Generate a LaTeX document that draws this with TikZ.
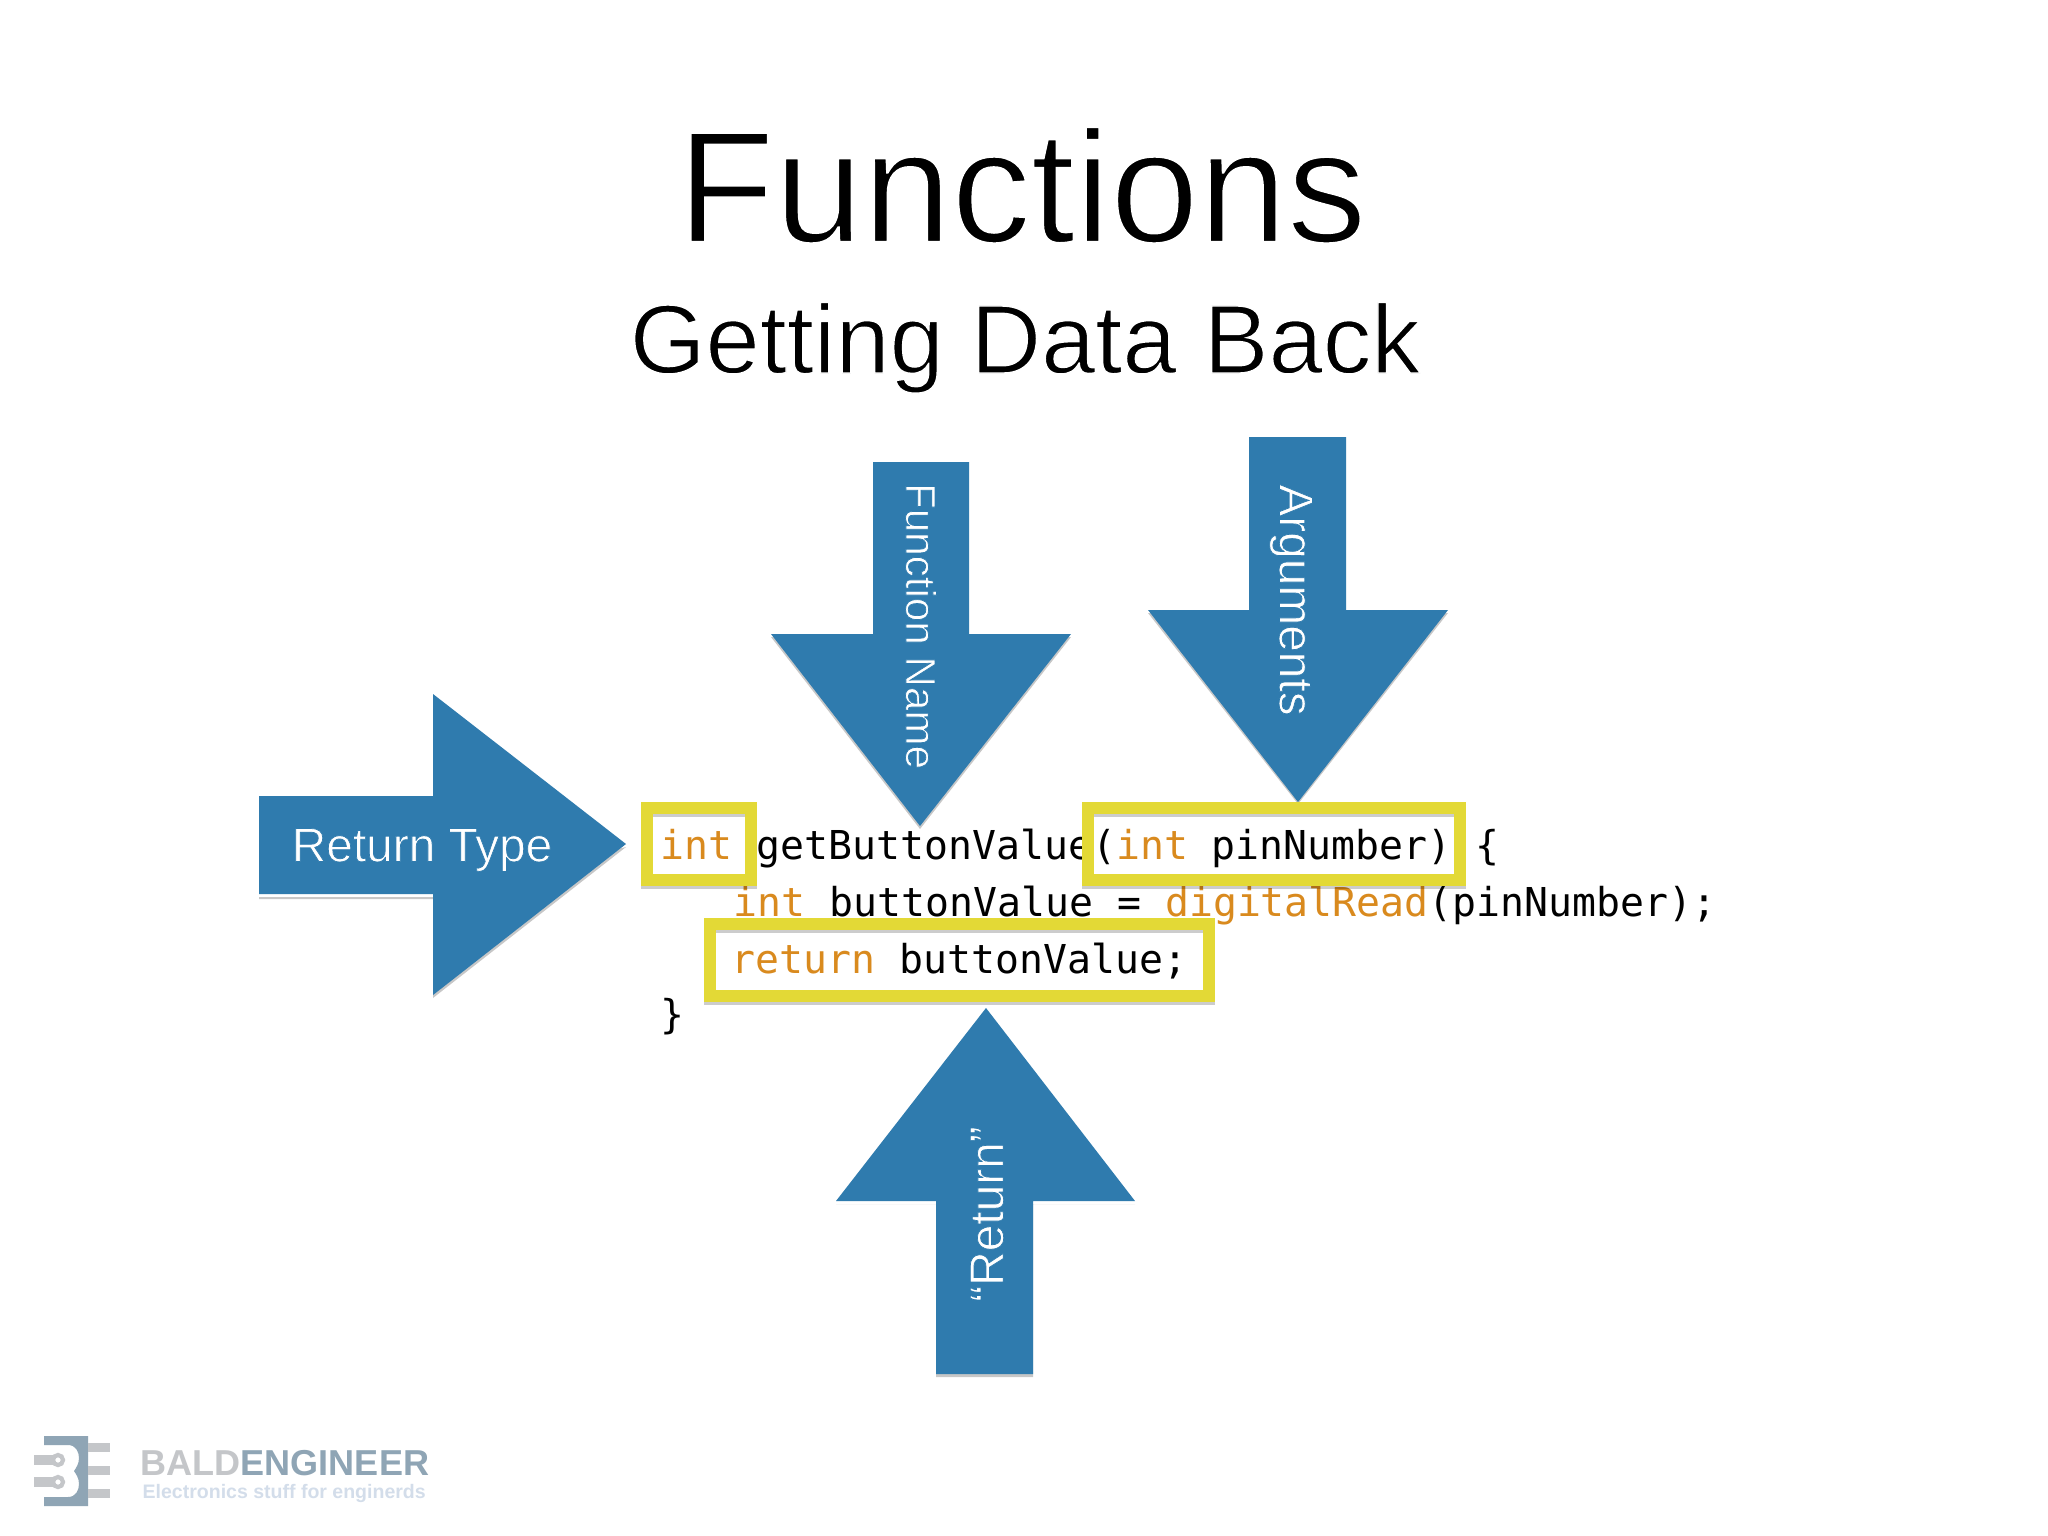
\documentclass[tikz,border=0pt]{standalone}
\usepackage{fontspec}
\usepackage{xcolor}
\setmainfont{Liberation Sans}
\newfontfamily\codefont{DejaVu Sans Mono}
\definecolor{arrowblue}{HTML}{2F7BAE}
\definecolor{boxyellow}{HTML}{E3D936}
\definecolor{keyword}{HTML}{D98A1E}
\definecolor{logogray}{HTML}{C4C6C9}
\definecolor{logoslate}{HTML}{8FA5B5}
\definecolor{logopale}{HTML}{D3DDEA}
\tikzset{
  x=0.01cm, y=-0.01cm,
  bigarrow/.style={fill=arrowblue},
  arrowshade/.style={fill=black, opacity=0.22},
  hilite/.style={draw=boxyellow, line width=3.4pt, miter limit=10},
  hiliteshade/.style={draw=black, opacity=0.2, line width=3.4pt},
  arrowlabel/.style={text=white, inner sep=0pt, font=\fontsize{13.6}{16}\selectfont},
  codeline/.style={anchor=base west, inner sep=0pt, font=\codefont\fontsize{11.32}{13}\selectfont},
  logobar/.style={fill=logogray}
}
\newcommand{\kw}[1]{\textcolor{keyword}{#1}}
% thins the glyphs: outline them in the colour behind the text
\newcommand{\thinned}[3]{\special{pdf:code q 2 Tr #2 w #1 RG}#3\special{pdf:code Q}}

\begin{document}
\begin{tikzpicture}
  \useasboundingbox (0,0) rectangle (2048,1536);
  \fill[white] (0,0) rectangle (2048,1536);

  % titles
  \node[inner sep=0pt, anchor=base, font=\fontsize{45.2}{50}\selectfont] (title) at (1022,242) {\thinned{1 1 1}{0.7}{Functions}};
  \node[inner sep=0pt, anchor=base, font=\fontsize{27.7}{32}\selectfont] (subtitle) at (1025,373) {\thinned{1 1 1}{0.4}{Getting Data Back}};

  % code
  \node[codeline] (line1) at (660,859) {\kw{int} getButtonValue(\kw{int} pinNumber) \{};
  \node[codeline] (line2) at (733,916) {\kw{int} buttonValue = \kw{digitalRead}(pinNumber);};
  \node[codeline] (line3) at (731,973) {\kw{return} buttonValue;};
  \node[codeline] (line4) at (660,1028) {\}};

  \begin{scope}[shift={(-2,-2)}]
    % arrow shadows
    \fill[arrowshade] (261,901)--(435,901)--(435,1000)--(628,849)--(435,899)--(261,899)--cycle;
    \fill[arrowshade] (773,639)--(1073,639)--(922,831)--cycle;
    \fill[arrowshade] (1150,615)--(1450,615)--(1300,806)--cycle;
    \fill[arrowshade] (838,1206)--(938,1206)--(938,1379)--(1035,1379)--(1035,1206)--(1137,1206)--cycle;

    % arrows
    \fill[bigarrow] (261,798)--(435,798)--(435,696)--(628,846)--(435,997)--(435,896)--(261,896)--cycle;
    \fill[bigarrow] (875,464)--(971,464)--(971,636)--(1073,636)--(922,828)--(773,636)--(875,636)--cycle;
    \fill[bigarrow] (1251,439)--(1348,439)--(1348,612)--(1450,612)--(1300,804)--(1150,612)--(1251,612)--cycle;
    \fill[bigarrow] (938,1376)--(1035,1376)--(1035,1203)--(1137,1203)--(988,1010)--(838,1203)--(938,1203)--cycle;
  \end{scope}

  \node[arrowlabel] (rtype) at (422,850) {\thinned{0.184 0.482 0.682}{0.2}{Return Type}};
  \node[arrowlabel, rotate=-90, font=\fontsize{12}{14}\selectfont] (fname) at (921,626) {\thinned{0.184 0.482 0.682}{0.2}{Function Name}};
  \node[arrowlabel, rotate=-90] (args) at (1291,600) {\thinned{0.184 0.482 0.682}{0.2}{Arguments}};
  \node[arrowlabel, rotate=90] (ret) at (987,1214) {\thinned{0.184 0.482 0.682}{0.2}{“Return”}};

  % yellow boxes
  \draw[hiliteshade] (647,811) rectangle (751,883);
  \draw[hiliteshade] (1088,811) rectangle (1460,883);
  \draw[hiliteshade] (710,927) rectangle (1209,999);
  \draw[hilite] (647,808) rectangle (751,880);
  \draw[hilite] (1088,808) rectangle (1460,880);
  \draw[hilite] (710,924) rectangle (1209,996);

  % logo
  \fill[logoslate] (44,1436)--(88,1436)--(88,1506)--(44,1506)--(44,1497)--(68,1497)
    .. controls (76,1497) and (79,1490) .. (79,1484)
    .. controls (79,1478) and (76,1474) .. (74,1471)
    .. controls (76,1468) and (79,1464) .. (79,1458)
    .. controls (79,1452) and (76,1445) .. (68,1445)--(44,1445)--cycle;
  \fill[logobar] (88,1443) rectangle (110,1452);
  \fill[logobar] (88,1466) rectangle (110,1475);
  \fill[logobar] (88,1489) rectangle (110,1498);
  \fill[logobar] (34,1455) rectangle (56,1465);
  \fill[logobar] (34,1477) rectangle (56,1487);
  \draw[draw=logogray, line width=1.2pt, fill=white] (58,1460) circle (5);
  \draw[draw=logogray, line width=1.2pt, fill=white] (58,1482) circle (5);
  \node[anchor=base west, inner sep=0pt, font=\bfseries\fontsize{10.25}{11}\selectfont] (logoname) at (140,1475) {\textcolor{logogray}{BALD}\textcolor{logoslate}{ENGINEER}};
  \node[anchor=base west, inner sep=0pt, text=logopale, font=\bfseries\fontsize{5.55}{7}\selectfont] (logotag) at (142,1498) {Electronics stuff for enginerds};
\end{tikzpicture}
\end{document}
